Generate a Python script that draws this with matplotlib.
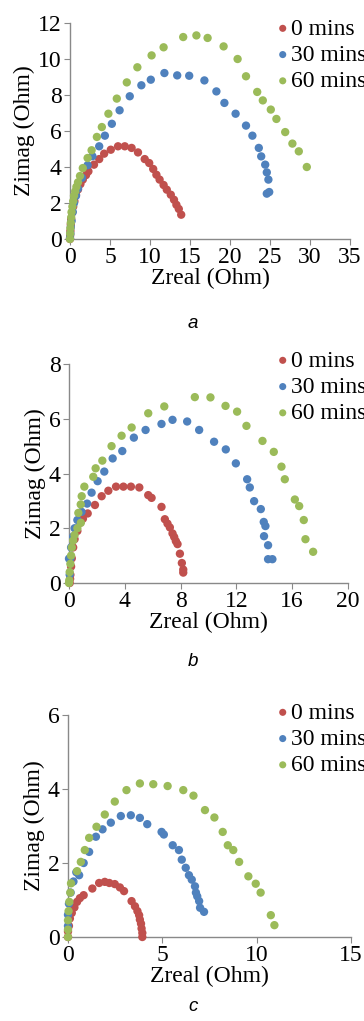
import matplotlib
matplotlib.use("Agg")
import matplotlib.pyplot as plt

plt.rcParams['font.family'] = ['Liberation Serif', 'DejaVu Serif']

RED = '#C0504D'
BLUE = '#4F81BD'
GREEN = '#9BBB59'
labels = ['0 mins', '30 mins', '60 mins']

# ---- panel a ----
a_red_x = [0.0, 0.02, 0.05, 0.1, 0.15, 0.25, 0.4, 0.55, 0.75, 1.0, 1.3, 1.6, 2.0, 2.3, 3.0, 3.65, 4.27, 5.1, 6.0,
           6.85, 7.7, 8.5, 9.34, 9.9, 10.4, 10.8, 11.2, 11.7, 12.1, 12.6, 13.0, 13.3, 13.6, 13.9]
a_red_y = [0.0, 0.2, 0.45, 0.8, 1.1, 1.45, 1.8, 2.1, 2.45, 2.75, 3.05, 3.3, 3.55, 3.76, 4.13, 4.44, 4.74, 4.96, 5.15,
           5.15, 5.06, 4.81, 4.44, 4.22, 3.89, 3.57, 3.3, 3.0, 2.74, 2.46, 2.18, 1.9, 1.67, 1.35]
a_blue_x = [0.0, 0.05, 0.1, 0.2, 0.35, 0.5, 0.75, 1.0, 1.5, 2.2, 2.8, 3.65, 4.36, 5.23, 6.2, 7.47, 8.92, 10.1, 11.8,
            13.4, 14.9, 16.8, 18.3, 19.3, 20.7, 22.0, 22.8, 23.6, 23.9, 24.4, 24.6, 24.8, 24.6, 24.9]
a_blue_y = [0.05, 0.3, 0.65, 1.0, 1.5, 2.0, 2.4, 2.8, 3.4, 4.1, 4.6, 5.15, 5.74, 6.4, 7.15, 7.93, 8.54, 8.85, 9.22,
            9.09, 9.07, 8.81, 8.2, 7.56, 6.96, 6.3, 5.74, 5.06, 4.59, 4.13, 3.7, 3.3, 2.52, 2.61]
a_green_x = [0.0, 0.02, 0.05, 0.1, 0.15, 0.2, 0.3, 0.4, 0.5, 0.65, 0.8, 1.0, 1.25, 1.6, 2.2, 2.7, 3.36, 3.98, 4.8,
             5.85, 7.1, 8.42, 10.2, 11.7, 14.15, 15.8, 17.2, 19.2, 20.95, 22.0, 23.4, 24.1, 25.1, 25.8, 26.9,
             27.8, 28.6, 29.6]
a_green_y = [0.0, 0.3, 0.6, 0.9, 1.2, 1.5, 1.8, 2.1, 2.4, 2.65, 2.9, 3.15, 3.5, 3.94, 4.5, 4.93, 5.67, 6.22, 6.96,
             7.8, 8.7, 9.54, 10.2, 10.65, 11.22, 11.31, 11.17, 10.7, 10.0, 9.04, 8.17, 7.7, 7.19, 6.67, 5.94,
             5.3, 4.87, 4.0]

# ---- panel b ----
b_red_x = [0.05, 0.08, 0.1, 0.15, 0.2, 0.3, 0.4, 0.6, 0.8, 1.0, 1.34, 1.86, 2.34, 2.82, 3.37, 3.9, 4.44, 5.04, 5.68,
           5.92, 6.63, 6.87, 7.06, 7.23, 7.42, 7.54, 7.66, 7.78, 7.95, 8.09, 8.19, 8.19]
b_red_y = [0.0, 0.15, 0.3, 0.6, 0.9, 1.3, 1.6, 1.9, 2.2, 2.35, 2.54, 2.85, 3.17, 3.37, 3.52, 3.52, 3.52, 3.49, 3.21,
           3.11, 2.78, 2.33, 2.17, 2.03, 1.81, 1.68, 1.53, 1.42, 1.07, 0.73, 0.49, 0.38]
b_blue_x = [0.0, 0.05, 0.1, 0.15, 0.3, 0.4, 0.6, 0.9, 1.3, 1.62, 2.05, 2.53, 3.13, 3.82, 4.65, 5.49, 6.63, 7.42, 8.47,
            9.33, 10.4, 11.24, 11.96, 12.77, 12.96, 13.27, 13.75, 13.96, 14.08, 13.98, 14.27, 14.27, 14.58]
b_blue_y = [0.89, 0.3, 0.9, 1.3, 1.7, 2.0, 2.3, 2.6, 2.9, 3.3, 3.72, 4.07, 4.55, 4.82, 5.31, 5.59, 5.81, 5.96, 5.9,
            5.59, 5.16, 4.88, 4.37, 3.79, 3.49, 2.99, 2.7, 2.23, 2.08, 1.71, 1.38, 0.87, 0.87]
b_green_x = [0.0, 0.02, 0.05, 0.1, 0.15, 0.2, 0.3, 0.4, 0.6, 0.85, 0.67, 0.84, 0.91, 1.1, 1.74, 1.91, 2.39, 3.05,
             3.77, 4.49, 5.68, 6.83, 9.02, 10.14, 11.22, 12.05, 12.72, 13.87, 14.68, 15.23, 15.47, 16.19, 16.5,
             16.83, 16.95, 17.5]
b_green_y = [0.0, 0.1, 0.4, 0.7, 1.0, 1.3, 1.55, 1.75, 2.0, 2.2, 2.56, 2.87, 3.17, 3.52, 3.88, 4.19, 4.47, 5.0,
             5.38, 5.68, 6.2, 6.45, 6.79, 6.78, 6.47, 6.26, 5.74, 5.19, 4.79, 4.25, 3.79, 3.05, 2.81,
             2.3, 1.6, 1.14]

# ---- panel c ----
c_red_x = [0.0, 0.0, 0.05, 0.1, 0.2, 0.34, 0.48, 0.63, 0.83, 1.29, 1.65, 1.95, 2.19, 2.48, 2.75, 2.97, 3.37, 3.55,
           3.68, 3.77, 3.81, 3.87, 3.9, 3.94, 3.94]
c_red_y = [0.0, 0.15, 0.3, 0.5, 0.65, 0.8, 0.95, 1.05, 1.13, 1.31, 1.46, 1.49, 1.46, 1.43, 1.34, 1.24, 0.97, 0.83,
           0.7, 0.59, 0.47, 0.36, 0.23, 0.11, 0.0]
c_blue_x = [0.0, 0.0, 0.05, 0.14, 0.29, 0.44, 0.59, 0.83, 1.12, 1.48, 1.83, 2.27, 2.8, 3.33, 3.81, 4.2, 4.96, 5.08,
            5.55, 5.88, 6.03, 6.24, 6.41, 6.56, 6.73, 6.78, 6.85, 6.95, 7.0, 7.21]
c_blue_y = [0.3, 0.6, 0.9, 1.2, 1.5, 1.75, 1.67, 2.0, 2.3, 2.71, 2.91, 3.09, 3.27, 3.29, 3.22, 3.05, 2.84, 2.77,
            2.48, 2.35, 2.09, 1.87, 1.67, 1.55, 1.37, 1.2, 1.1, 0.97, 0.79, 0.68]
c_green_x = [0.0, 0.0, 0.0, 0.03, 0.07, 0.12, 0.16, 0.48, 0.68, 0.89, 1.12, 1.51, 1.95, 2.48, 3.1, 3.81, 4.52, 5.28,
             6.11, 6.65, 7.26, 7.76, 8.2, 8.47, 8.76, 9.07, 9.56, 9.95, 10.21, 10.75, 10.94]
c_green_y = [0.0, 0.2, 0.45, 0.7, 0.95, 1.2, 1.45, 1.78, 2.03, 2.35, 2.68, 2.98, 3.31, 3.66, 3.97, 4.15, 4.13, 4.08,
             3.97, 3.82, 3.43, 3.23, 2.84, 2.48, 2.35, 2.03, 1.64, 1.44, 1.2, 0.59, 0.32]

panels = [
    ((a_red_x, a_red_y), (a_blue_x, a_blue_y), (a_green_x, a_green_y)),
    ((b_red_x, b_red_y), (b_blue_x, b_blue_y), (b_green_x, b_green_y)),
    ((c_red_x, c_red_y), (c_blue_x, c_blue_y), (c_green_x, c_green_y)),
]
xlims = [(35, 5), (20, 4), (15, 5)]
ylims = [(12, 2), (8, 2), (6, 2)]
captions = ['a', 'b', 'c']

W, H = 364, 1021
fig = plt.figure(figsize=(W / 100, H / 100), dpi=100)

# axes boxes in pixels: left, top, right, bottom
boxes = [(70, 23, 350, 239), (69, 364, 348, 583), (68, 715, 351, 937)]
caption_y = [323, 662, 1006]
legend_top = [18, 350, 702]

for i, (series, (xmax, xstep), (ymax, ystep)) in enumerate(zip(panels, xlims, ylims)):
    l, t, r, b = boxes[i]
    ax = fig.add_axes([l / W, 1 - b / H, (r - l) / W, (b - t) / H])
    for (xs, ys), col, lab in zip(series, [RED, BLUE, GREEN], labels):
        ax.scatter(xs, ys, s=36, color=col, edgecolors='none', label=lab, clip_on=False, zorder=3)
    ax.set_xlim(0, xmax)
    ax.set_ylim(0, ymax)
    ax.set_xticks(range(0, xmax + 1, xstep))
    ax.set_yticks(range(0, ymax + 1, ystep))
    for s in ['top', 'right']:
        ax.spines[s].set_visible(False)
    for s in ['left', 'bottom']:
        ax.spines[s].set_color('#898989')
        ax.spines[s].set_linewidth(1)
    ax.tick_params(direction='out', length=4, width=0.8, color='#898989', labelsize=17, pad=2)
    ax.set_xlabel('Zreal (Ohm)', fontsize=17, labelpad=0)
    ax.set_ylabel('Zimag (Ohm)', fontsize=17, labelpad=2)
    ax.legend(loc='upper left', bbox_to_anchor=(278 / W, 1 - legend_top[i] / H),
              bbox_transform=fig.transFigure, frameon=False, fontsize=17,
              handlelength=0.4, handletextpad=0.15, labelspacing=0.2,
              borderpad=0, borderaxespad=0, scatterpoints=1, markerscale=0.85)
    fig.text(193 / W, 1 - caption_y[i] / H, captions[i], ha='center', va='center',
             style='italic', family='Liberation Sans', fontsize=13.5)

fig.savefig('out.png', dpi=100)
